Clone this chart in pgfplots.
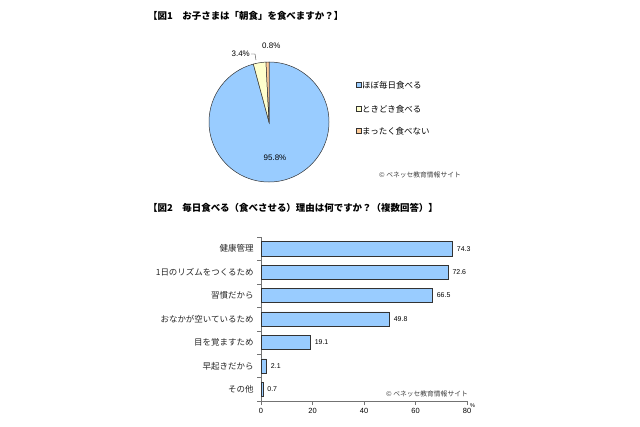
\documentclass[border=0pt]{standalone}
\usepackage{fontspec}
\setmainfont{Liberation Sans}
\newfontfamily\cjk{Noto Sans CJK JP}
\usepackage{pgfplots}
\pgfplotsset{compat=1.18}

\definecolor{pieblue}{HTML}{99CCFF}
\definecolor{pieyellow}{HTML}{FFFFCC}
\definecolor{pieorange}{HTML}{FFCC99}
\definecolor{edge}{HTML}{333333}

% shares for figure 1 (percent)
\def\shareA{95.8}
\def\shareB{3.4}
\def\shareC{0.8}

\pgfplotstableread{
idx value
0 74.3
1 72.6
2 66.5
3 49.8
4 19.1
5 2.1
6 0.7
}\reasons

\begin{document}
\begin{tikzpicture}
\begin{scope}[x=1bp,y=1bp]
\fill[white] (0,0) rectangle (640,426);
\useasboundingbox (0,0) rectangle (640,426);

% ---- figure 1: pie ----
\node[anchor=west,inner sep=0] at (148,410)
  {\cjk\bfseries\fontsize{9.5}{11}\selectfont 【図1　お子さまは「朝食」を食べますか？】};

\coordinate (c) at (269,304);
\pgfmathsetmacro\endA{90-3.6*\shareA}
\pgfmathsetmacro\endB{\endA-3.6*\shareB}
\filldraw[fill=pieblue,draw=edge,line width=0.5pt]
  (c) -- ++(90:60) arc[start angle=90,end angle=\endA,radius=60] -- cycle;
\filldraw[fill=pieyellow,draw=edge,line width=0.5pt]
  (c) -- ++(\endA:60) arc[start angle=\endA,end angle=\endB,radius=60] -- cycle;
\filldraw[fill=pieorange,draw=edge,line width=0.5pt]
  (c) -- ++(\endB:60) arc[start angle=\endB,end angle=-270,radius=60] -- cycle;

\node[font=\fontsize{8}{9}\selectfont] at (275,268) {95.8\%};
\node[font=\fontsize{8}{9}\selectfont,anchor=east,inner sep=0] at (250,372) {3.4\%};
\draw[edge,line width=0.4pt] (251,372) -- (255,372) -- (256,366);
\node[font=\fontsize{8}{9}\selectfont,anchor=west,inner sep=0] at (262,380) {0.8\%};

\foreach \col/\txt/\yy in {pieblue/ほぼ毎日食べる/341, pieyellow/ときどき食べる/317, pieorange/まったく食べない/295}{
  \filldraw[fill=\col,draw=edge,line width=0.4pt] (356,\yy-2.5) rectangle ++(5,5);
  \node[anchor=west,inner sep=0,font=\cjk\fontsize{8.5}{10}\selectfont] at (362,\yy) {\txt};
}
\node[font=\cjk\fontsize{6.8}{8}\selectfont,text=black!75] at (420,251) {© ベネッセ教育情報サイト};

% ---- figure 2: title and notes ----
\node[anchor=west,inner sep=0] at (148,218)
  {\cjk\bfseries\fontsize{9.5}{11}\selectfont 【図2　毎日食べる（食べさせる）理由は何ですか？（複数回答）】};
\node[font=\fontsize{5.5}{6}\selectfont,anchor=west,inner sep=0] at (470,20) {\%};
\node[font=\cjk\fontsize{6.8}{8}\selectfont,text=black!75] at (427,32) {© ベネッセ教育情報サイト};
\end{scope}

\begin{axis}[
  at={(261bp,25bp)}, anchor=south west,
  scale only axis, width=206bp, height=164bp,
  xbar, bar width=0.6,
  xmin=0, xmax=80, ymin=-0.5, ymax=6.5,
  y dir=reverse,
  axis lines*=left,
  axis line style={draw=black!55,line width=0.6pt},
  xtick={0,20,40,60,80},
  ytick={0,...,6},
  yticklabels={健康管理,1日のリズムをつくるため,習慣だから,おなかが空いているため,目を覚ますため,早起きだから,その他},
  yticklabel style={font=\cjk\fontsize{8.5}{10}\selectfont,text=black!85},
  xticklabel style={font=\fontsize{7.5}{9}\selectfont},
  /pgf/number format/assume math mode=true,
  major y tick style={draw=none},
  minor ytick={-0.5,0.5,...,6.5},
  minor y tick style={draw=black!55},
  minor tick length=4bp,
  x tick style={draw=black!55},
  major tick length=4bp,
  tick align=outside,
  nodes near coords,
  nodes near coords style={font=\fontsize{7}{8}\selectfont,anchor=west,xshift=1bp,
    /pgf/number format/fixed,/pgf/number format/precision=1,/pgf/number format/fixed zerofill},
  clip=false,
]
\addplot[fill=pieblue,draw=edge,line width=0.5pt] table[x=value,y=idx] {\reasons};
\end{axis}
\end{tikzpicture}
\end{document}
